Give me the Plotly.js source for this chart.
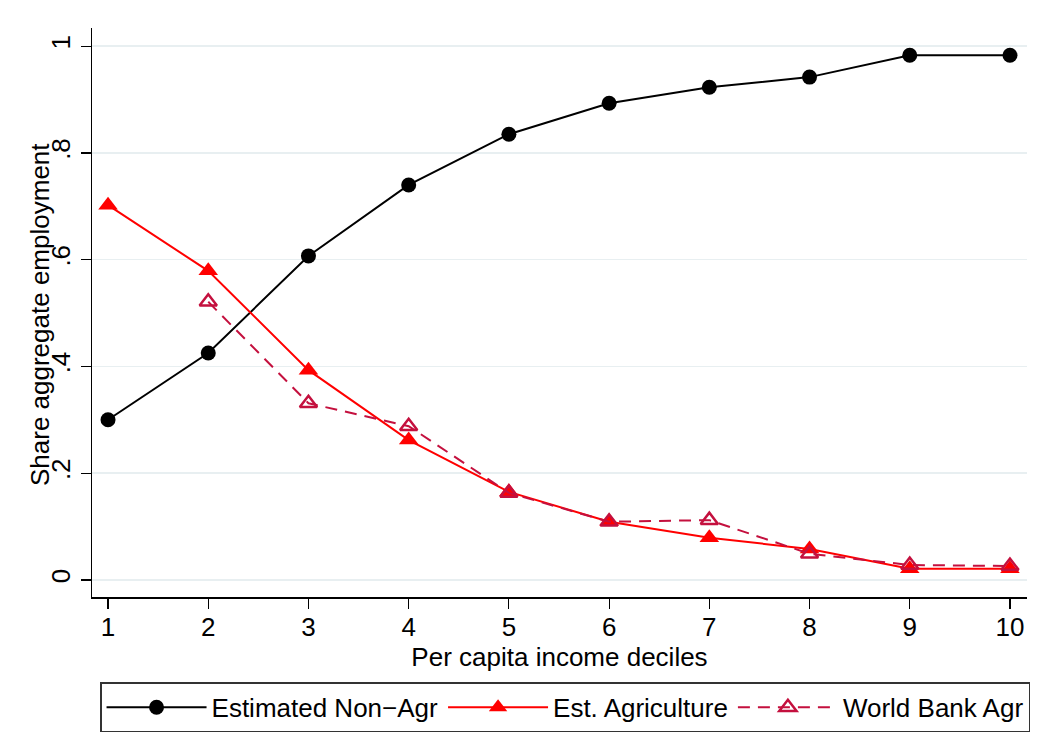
<!DOCTYPE html>
<html>
<head>
<meta charset="utf-8">
<script src="https://cdn.plot.ly/plotly-3.0.1.min.js"></script>
<style>
  html, body { margin: 0; padding: 0; background: #ffffff; }
  #chart { width: 1045px; height: 733px; }
</style>
</head>
<body>
<div id="chart"></div>
<script>
// Income deciles on the x axis
const deciles = [1, 2, 3, 4, 5, 6, 7, 8, 9, 10];

// Estimated share of employment outside agriculture
const nonAgr = [0.300, 0.425, 0.607, 0.740, 0.835, 0.893, 0.923, 0.942, 0.983, 0.983];

// Estimated share of employment in agriculture
const estAgr = [0.702, 0.579, 0.393, 0.262, 0.165, 0.109, 0.079, 0.058, 0.021, 0.021];

// World Bank agricultural employment share (no value for the first decile)
const wbDeciles = [2, 3, 4, 5, 6, 7, 8, 9, 10];
const wbAgr = [0.521, 0.331, 0.288, 0.163, 0.109, 0.112, 0.049, 0.028, 0.026];

const yTickVals = [0, 0.2, 0.4, 0.6, 0.8, 1];
const yTickText = ['0', '.2', '.4', '.6', '.8', '1'];

const fontFam = 'Liberation Sans, Arial, sans-serif';
const cranberry = '#c4103e';
const txtSize = 26;

const traces = [
  {
    x: deciles, y: nonAgr, name: 'Estimated Non\u2212Agr',
    type: 'scatter', mode: 'lines+markers',
    line: { color: '#000000', width: 2 },
    marker: { symbol: 'circle', size: 15, color: '#000000' }
  },
  {
    x: deciles, y: estAgr, name: 'Est. Agriculture',
    type: 'scatter', mode: 'lines+markers',
    line: { color: '#ff0000', width: 2 },
    marker: { symbol: 'triangle-up', size: 17, color: '#ff0000' }
  },
  {
    x: wbDeciles, y: wbAgr, name: 'World Bank Agr',
    type: 'scatter', mode: 'lines+markers',
    line: { color: cranberry, width: 2, dash: '12px,8px' },
    marker: { symbol: 'triangle-up-open', size: 15, color: cranberry, line: { width: 2.5, color: cranberry } }
  }
];

const layout = {
  width: 1045,
  height: 733,
  paper_bgcolor: '#ffffff',
  plot_bgcolor: '#ffffff',
  font: { family: fontFam, color: '#000000', size: txtSize },
  margin: { l: 92, r: 18, t: 28, b: 136, autoexpand: false },
  showlegend: true,
  legend: {
    orientation: 'h',
    x: 0.0086, xanchor: 'left',
    y: -0.150, yanchor: 'top',
    xref: 'paper', yref: 'paper',
    bordercolor: '#333333', borderwidth: 1.5,
    bgcolor: '#ffffff',
    font: { family: fontFam, size: txtSize, color: '#000000' },
    itemwidth: 100,
    traceorder: 'normal'
  },
  xaxis: {
    range: [0.84, 10.17],
    tickvals: deciles,
    ticktext: deciles.map(String),
    ticks: 'outside', ticklen: 10, tickwidth: 1.2, tickcolor: '#000000',
    ticklabelstandoff: -4,
    showline: true, linecolor: '#000000', linewidth: 1.5,
    showgrid: false, zeroline: false,
    tickfont: { size: txtSize },
    title: { text: 'Per capita income deciles', font: { size: txtSize }, standoff: 0 }
  },
  yaxis: {
    range: [-0.032, 1.034],
    tickvals: yTickVals,
    ticktext: yTickText,
    tickangle: -90,
    ticks: 'outside', ticklen: 10, tickwidth: 1.2, tickcolor: '#000000',
    showline: true, linecolor: '#000000', linewidth: 1.5,
    showgrid: true, gridcolor: '#e8eff1', gridwidth: 1.5,
    zeroline: false,
    tickfont: { size: txtSize }
  },
  annotations: [
    {
      // y-axis title, set close to the axis so it sits over the tick labels
      text: 'Share aggregate employment',
      xref: 'paper', yref: 'paper',
      x: -0.0556, y: 0.4956,
      xanchor: 'center', yanchor: 'middle',
      textangle: -90,
      showarrow: false,
      font: { family: fontFam, size: txtSize, color: '#000000' }
    }
  ]
};

Plotly.newPlot('chart', traces, layout, { displayModeBar: false, staticPlot: true });
</script>
</body>
</html>
